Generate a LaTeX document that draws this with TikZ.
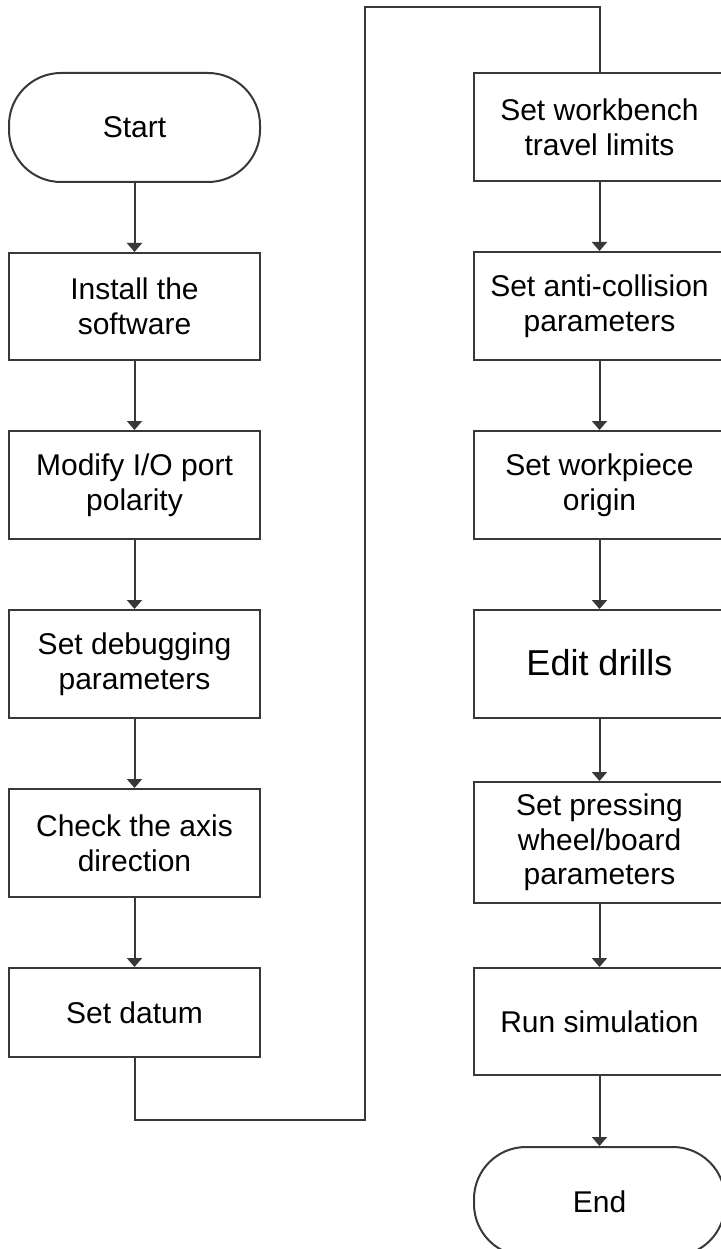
\documentclass[tikz,border=0pt]{standalone}
\usepackage{fontspec}
\setmainfont{Liberation Sans}
\usetikzlibrary{arrows.meta}
\begin{document}
\begin{tikzpicture}[x=1pt,y=-1pt,
  box/.style={draw=black!78, line width=2pt, fill=white, minimum width=251pt,
    align=center, inner sep=0pt, font=\fontsize{30}{35}\selectfont},
  term/.style={box, rounded corners=52pt},
  conn/.style={draw=black!78, line width=2pt},
  arr/.style={conn, -{Triangle[width=15pt,length=9pt]}}]
\useasboundingbox (0,0) rectangle (720,1249);
% left column
\node[term, minimum height=109pt] (start) at (134.5,127.5) {Start};
\node[box, minimum height=107pt] (install) at (134.5,306.5) {Install the\\software};
\node[box, minimum height=108pt] (modify) at (134.5,485) {Modify I/O port\\polarity};
\node[box, minimum height=108pt] (debug) at (134.5,664) {Set debugging\\parameters};
\node[box, minimum height=108pt] (check) at (134.5,843) {Check the axis\\direction};
\node[box, minimum height=89pt] (datum) at (134.5,1012.5) {Set datum};
% right column
\node[box, minimum height=108pt] (bench) at (599.5,127) {Set workbench\\travel limits};
\node[box, minimum height=108pt] (anti) at (599.5,306) {Set anti-collision\\parameters};
\node[box, minimum height=108pt] (origin) at (599.5,485) {Set workpiece\\origin};
\node[box, minimum height=108pt, font=\fontsize{36}{42}\selectfont] (drills) at (599.5,664) {\raisebox{3pt}{Edit drills}};
\node[box, minimum height=121pt, font=\fontsize{30}{34.5}\selectfont] (press) at (599.5,842.5) {Set pressing\\wheel/board\\parameters};
\node[box, minimum height=107pt] (sim) at (599.5,1021.5) {Run simulation};
\node[term, minimum height=109pt] (end) at (599.5,1201.5) {End};
% connectors
\coordinate (c1) at (134.5,1120);
\coordinate (c2) at (365,1120);
\coordinate (c3) at (365,7);
\coordinate (c4) at (599.5,7);
\draw[arr] (start) -- (install);
\draw[arr] (install) -- (modify);
\draw[arr] (modify) -- (debug);
\draw[arr] (debug) -- (check);
\draw[arr] (check) -- (datum);
\draw[conn] (datum.south) -- (c1) -- (c2) -- (c3) -- (c4) -- (bench.north);
\draw[arr] (bench) -- (anti);
\draw[arr] (anti) -- (origin);
\draw[arr] (origin) -- (drills);
\draw[arr] (drills) -- (press);
\draw[arr] (press) -- (sim);
\draw[arr] (sim) -- (end);
\end{tikzpicture}
\end{document}
